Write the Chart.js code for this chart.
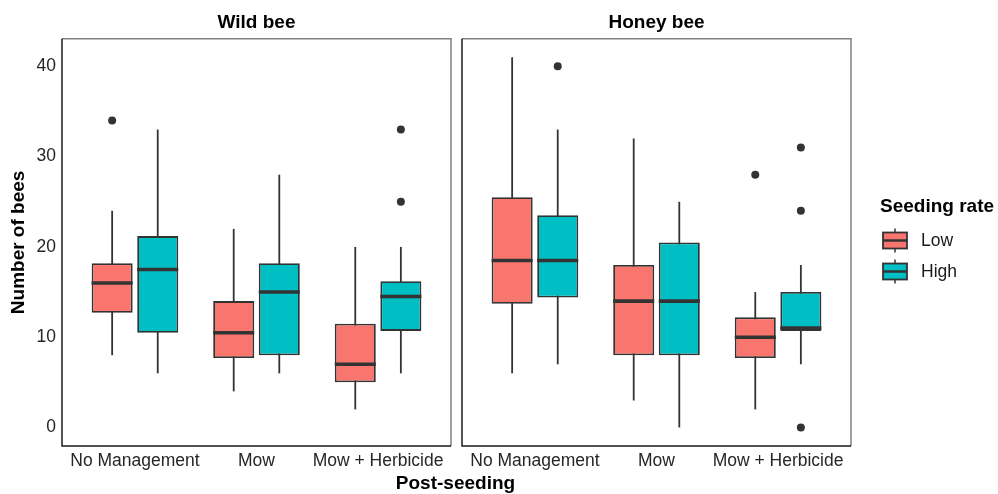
<!DOCTYPE html>
<html>
<head>
<meta charset="utf-8">
<script src="https://cdn.jsdelivr.net/npm/chart.js@4.4.1/dist/chart.umd.min.js"></script>
<style>
  body { margin: 0; background: #fff; }
  #wrap { position: relative; width: 998px; height: 494px; }
  #c1 { position: absolute; left: 0; top: 0; }
  #c2 { position: absolute; left: 456px; top: 0; }
  #xtitle { position: absolute; left: 0; width: 911px; top: 472px; text-align: center;
            font: bold 19px "Liberation Sans", Arial, sans-serif; line-height: 22px; color: #000; }
</style>
</head>
<body>
<div id="wrap">
  <canvas id="c1" width="456" height="494" style="width:456px;height:494px"></canvas>
  <canvas id="c2" width="542" height="494" style="width:542px;height:494px"></canvas>
  <div id="xtitle">Post-seeding</div>
</div>
<script>
// categorias del eje x
const categorias = ['No Management', 'Mow', 'Mow + Herbicide']
const ticksY = [0, 10, 20, 30, 40]
const grupos = ['Low', 'High']
const colores = ['#F8766D', '#00BFC4']

// cada caja: [bigote inferior, q1, mediana, q3, bigote superior]
const silvestreLow = [[8, 12.7, 16, 18.2, 24], [4, 7.7, 10.5, 14, 22], [2, 5, 7, 11.5, 20]]
const silvestreHigh = [[6, 10.5, 17.5, 21.2, 33], [6, 8, 15, 18.2, 28], [6, 10.7, 14.5, 16.2, 20]]
const melileraLow = [[6, 13.7, 18.5, 25.5, 41], [3, 8, 14, 18, 32], [2, 7.7, 10, 12.2, 15]]
const melileraHigh = [[7, 14.4, 18.5, 23.5, 33], [0, 8, 14, 20.5, 25], [7, 10.7, 11, 15, 18]]

// valores atipicos por categoria
const silvestreLowOut = [[34], [], []]
const silvestreHighOut = [[], [], [33, 25]]
const melileraLowOut = [[], [], [28]]
const melileraHighOut = [[40], [], [31, 24, 0]]

const fuente = '"Liberation Sans", Arial, sans-serif'
const oscuro = '#333333'

// bigotes, medianas, atipicos y borde del panel
const cajas = {
    id: 'cajas',
    beforeDatasetsDraw(chart) {
        const ctx = chart.ctx
        const y = chart.scales.y
        ctx.save()
        ctx.strokeStyle = oscuro
        ctx.lineWidth = 1.8
        chart.data.datasets.forEach((ds, i) => {
            chart.getDatasetMeta(i).data.forEach((bar, j) => {
                const s = ds.stats[j]
                ctx.beginPath()
                ctx.moveTo(bar.x, y.getPixelForValue(s[0]))
                ctx.lineTo(bar.x, y.getPixelForValue(s[4]))
                ctx.stroke()
            })
        })
        ctx.restore()
    },
    afterDatasetsDraw(chart) {
        const ctx = chart.ctx
        const y = chart.scales.y
        ctx.save()
        chart.data.datasets.forEach((ds, i) => {
            chart.getDatasetMeta(i).data.forEach((bar, j) => {
                const s = ds.stats[j]
                const med = y.getPixelForValue(s[2])
                ctx.strokeStyle = oscuro
                ctx.lineWidth = 3.6
                ctx.beginPath()
                ctx.moveTo(bar.x - bar.width / 2, med)
                ctx.lineTo(bar.x + bar.width / 2, med)
                ctx.stroke()
                ctx.fillStyle = oscuro
                ds.outliers[j].forEach(v => {
                    ctx.beginPath()
                    ctx.arc(bar.x, y.getPixelForValue(v), 4, 0, Math.PI * 2)
                    ctx.fill()
                })
            })
        })
        const a = chart.chartArea
        ctx.lineWidth = 1.5
        ctx.strokeStyle = '#808080'
        ctx.beginPath()
        ctx.moveTo(a.left, a.top); ctx.lineTo(a.right, a.top); ctx.lineTo(a.right, a.bottom)
        ctx.stroke()
        ctx.strokeStyle = '#1a1a1a'
        ctx.beginPath()
        ctx.moveTo(a.left, a.top); ctx.lineTo(a.left, a.bottom); ctx.lineTo(a.right, a.bottom)
        ctx.stroke()
        ctx.restore()
    }
}

// leyenda dibujada a mano (glifo de caja)
const leyenda = {
    id: 'leyenda',
    afterDraw(chart) {
        const ctx = chart.ctx
        ctx.save()
        ctx.fillStyle = '#000'
        ctx.textBaseline = 'middle'
        ctx.textAlign = 'left'
        ctx.font = 'bold 19px ' + fuente
        ctx.fillText('Seeding rate', 424, 207)
        grupos.forEach((g, i) => {
            const cy = 240.5 + i * 31
            const x0 = 427, w = 24
            ctx.strokeStyle = oscuro
            ctx.lineWidth = 1.5
            ctx.beginPath()
            ctx.moveTo(x0 + w / 2, cy - 12); ctx.lineTo(x0 + w / 2, cy + 12)
            ctx.stroke()
            ctx.fillStyle = colores[i]
            ctx.fillRect(x0, cy - 8, w, 16)
            ctx.lineWidth = 1.8
            ctx.strokeRect(x0, cy - 8, w, 16)
            ctx.lineWidth = 2.5
            ctx.beginPath()
            ctx.moveTo(x0, cy); ctx.lineTo(x0 + w, cy)
            ctx.stroke()
            ctx.fillStyle = '#1a1a1a'
            ctx.font = '17.5px ' + fuente
            ctx.fillText(g, 465, cy + 1)
        })
        ctx.restore()
    }
}

function grafico_caja(id, titulo, low, high, lowOut, highOut, conEjeY, relleno, extras) {
    const series = [low, high]
    const atipicos = [lowOut, highOut]
    new Chart(document.getElementById(id), {
        type: 'bar',
        data: {
            datasets: grupos.map((g, k) => ({
                label: g,
                data: series[k].map((s, i) => ({ x: i + 1, y: [s[1], s[3]] })),
                stats: series[k],
                outliers: atipicos[k],
                backgroundColor: colores[k],
                borderColor: oscuro,
                borderWidth: 1.8,
                borderSkipped: false,
                categoryPercentage: 0.75,
                barPercentage: 0.9
            }))
        },
        options: {
            responsive: false,
            animation: false,
            layout: { padding: relleno },
            plugins: {
                legend: { display: false },
                tooltip: { enabled: false },
                title: {
                    display: true,
                    text: titulo,
                    fullSize: false,
                    color: '#000',
                    font: { family: fuente, size: 19, weight: 'bold' },
                    padding: { top: 11, bottom: 5 }
                }
            },
            scales: {
                x: {
                    type: 'linear',
                    min: 0.4,
                    max: 3.6,
                    offset: false,
                    grid: { display: false, drawTicks: false },
                    border: { display: false },
                    afterBuildTicks: s => { s.ticks = categorias.map((c, i) => ({ value: i + 1 })) },
                    afterFit: s => { s.height = 48 },
                    ticks: {
                        autoSkip: false,
                        maxRotation: 0,
                        padding: 5,
                        color: '#262626',
                        font: { family: fuente, size: 17.5 },
                        callback: (v, i) => categorias[i]
                    }
                },
                y: {
                    display: conEjeY,
                    min: -2.05,
                    max: 43.05,
                    grid: { display: false, drawTicks: false },
                    border: { display: false },
                    afterBuildTicks: s => { s.ticks = ticksY.map(v => ({ value: v })) },
                    afterFit: s => { s.width = conEjeY ? 62 : 0 },
                    ticks: {
                        padding: 6,
                        color: '#262626',
                        font: { family: fuente, size: 17.5 }
                    },
                    title: {
                        display: true,
                        text: 'Number of bees',
                        color: '#000',
                        font: { family: fuente, size: 19, weight: 'bold' },
                        padding: { top: 7, bottom: 0 }
                    }
                }
            }
        },
        plugins: [cajas].concat(extras)
    })
}

grafico_caja('c1', 'Wild bee', silvestreLow, silvestreHigh, silvestreLowOut, silvestreHighOut,
    true, { left: 0, right: 5, top: 0, bottom: 0 }, [])
grafico_caja('c2', 'Honey bee', melileraLow, melileraHigh, melileraLowOut, melileraHighOut,
    false, { left: 6, right: 147, top: 0, bottom: 0 }, [leyenda])
</script>
</body>
</html>
